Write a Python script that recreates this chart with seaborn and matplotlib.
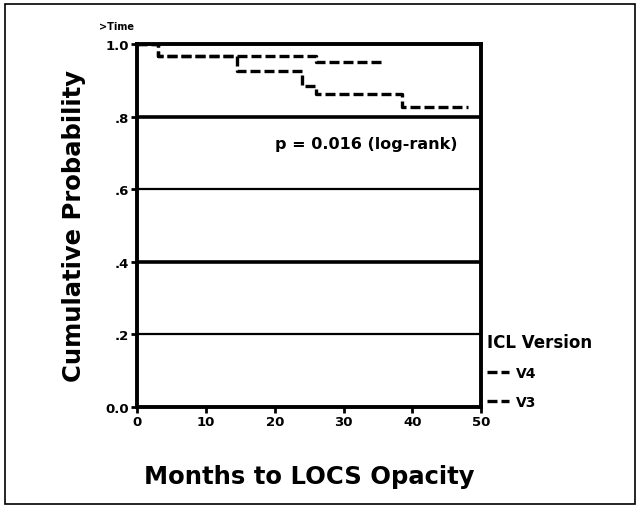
"""
Kaplan-Meier style chart: cumulative probability vs months to LOCS opacity
"""

import pandas as pd
import matplotlib.pyplot as plt
import matplotlib.patches as mpatches
import seaborn as sns

# ── data ──────────────────────────────────────────────────────────────────
V4_MONTHS = [0, 3, 26, 36]
V4_PROB   = [1.0, 0.967, 0.95, 0.95]
V3_MONTHS = [0, 3, 14.5, 24, 26, 38.5, 48]
V3_PROB   = [1.0, 0.967, 0.925, 0.884, 0.862, 0.826, 0.826]

Y_TICKS  = [0.0, 0.2, 0.4, 0.6, 0.8, 1.0]
Y_LABELS = ["0.0", ".2", ".4", ".6", ".8", "1.0"]
X_TICKS  = [0, 10, 20, 30, 40, 50]

sns.set_theme(style="white")
plt.rcParams.update({"font.family": ["DejaVu Sans"], "font.weight": "bold",
                     "text.color": "black", "axes.labelcolor": "black",
                     "xtick.color": "black", "ytick.color": "black"})

df = pd.concat([
    pd.DataFrame({"months": V4_MONTHS, "prob": V4_PROB, "ICL Version": "V4"}),
    pd.DataFrame({"months": V3_MONTHS, "prob": V3_PROB, "ICL Version": "V3"}),
], ignore_index=True)

fig = plt.figure(figsize=(6.4, 5.1), dpi=100)
ax = fig.add_axes([0.214, 0.2, 0.538, 0.712])

# horizontal reference lines
for y, lw in [(0.2, 1.6), (0.4, 2.6), (0.6, 1.6), (0.8, 2.6)]:
    ax.axhline(y, color="black", lw=lw, zorder=1)

dash = (3, 1.2)
sns.lineplot(data=df, x="months", y="prob", hue="ICL Version",
             style="ICL Version", dashes={"V4": dash, "V3": dash},
             palette={"V4": "black", "V3": "black"}, drawstyle="steps-post",
             estimator=None, sort=False, ax=ax, lw=2.4, zorder=3)

ax.set_xlim(0, 50)
ax.set_ylim(0, 1.0)
ax.set_xticks(X_TICKS)
ax.set_xticklabels([str(t) for t in X_TICKS], fontsize=9.5, fontweight="bold")
ax.set_yticks(Y_TICKS)
ax.set_yticklabels(Y_LABELS, fontsize=9.5, fontweight="bold")
ax.tick_params(axis="both", length=4, width=2, color="black", pad=2,
               direction="out", left=True, bottom=True)
for s in ax.spines.values():
    s.set_linewidth(2.8)
    s.set_color("black")

ax.set_xlabel("Months to LOCS Opacity", fontsize=17.5, fontweight="bold", labelpad=26)
ax.set_ylabel("Cumulative Probability", fontsize=17.5, fontweight="bold", labelpad=14)
ax.text(-0.5, 1.035, ">Time", fontsize=7, fontweight="bold", ha="right",
        va="bottom", clip_on=False)
ax.text(20, 0.725, "p = 0.016 (log-rank)", fontsize=11.5, fontweight="bold",
        ha="left", va="center")

handles, labels = ax.get_legend_handles_labels()
leg = ax.legend(handles, labels, title="ICL Version", loc="upper left",
                bbox_to_anchor=(1.0, 0.22), frameon=False, fontsize=10,
                handlelength=1.6, handletextpad=0.5, labelspacing=1.1,
                borderaxespad=0, alignment="left")
plt.setp(leg.get_title(), fontsize=12, fontweight="bold")
for t in leg.get_texts():
    t.set_fontweight("bold")

# frame around the whole picture
fig.patches.append(mpatches.Rectangle((0.008, 0.01), 0.984, 0.98,
                                      transform=fig.transFigure, fill=False,
                                      edgecolor="black", lw=1.2))

plt.savefig("out.png", dpi=100)
plt.close()
